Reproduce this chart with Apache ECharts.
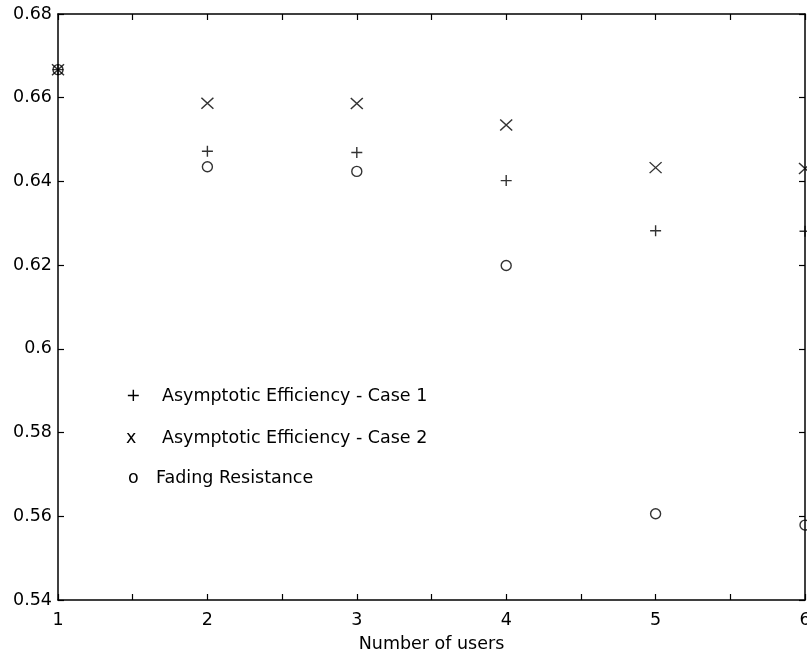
<!DOCTYPE html>
<html>
<head>
<meta charset="utf-8">
<script src="https://cdn.jsdelivr.net/npm/echarts@6/dist/echarts.min.js"></script>
<style>
html,body{margin:0;padding:0;background:#fff;}
#chart{width:807px;height:653px;}
</style>
</head>
<body>
<div id="chart"></div>
<script>
// Data
const users = [1, 2, 3, 4, 5, 6];
const case1 = [0.6667, 0.6472, 0.6469, 0.6402, 0.6282, 0.6281];
const case2 = [0.6667, 0.6587, 0.6586, 0.6535, 0.6433, 0.6431];
const fading = [0.6667, 0.6435, 0.6424, 0.6199, 0.5606, 0.5579];
const legendNames = ['Asymptotic Efficiency - Case 1', 'Asymptotic Efficiency - Case 2', 'Fading Resistance'];
const legendGlyphs = ['+', 'x', 'o'];
const xTitle = 'Number of users';

const FONT = 'DejaVu Sans';
const pair = (arr) => users.map((u, i) => [u, arr[i]]);

const baseX = {
  type: 'value', min: 1, max: 6, interval: 0.5,
  axisLine: {show: true, lineStyle: {color: '#000', width: 1.5}},
  axisTick: {show: true, inside: true, length: 6, lineStyle: {color: '#000', width: 1.2}},
  splitLine: {show: false}
};
const baseY = {
  type: 'value', min: 0.54, max: 0.68, interval: 0.02,
  axisLine: {show: true, lineStyle: {color: '#000', width: 1.5}},
  axisTick: {show: true, inside: true, length: 6, lineStyle: {color: '#000', width: 1.2}},
  splitLine: {show: false}
};

const markerStyle = {color: 'none', borderColor: '#000', borderWidth: 1.4};

const chart = echarts.init(document.getElementById('chart'), null, {renderer: 'canvas'});
chart.setOption({
  backgroundColor: '#fff',
  animation: false,
  grid: {left: 58, right: 2, top: 14, bottom: 53, containLabel: false, outerBoundsMode: 'none'},
  xAxis: [
    Object.assign({}, baseX, {
      position: 'bottom',
      name: xTitle, nameLocation: 'middle', nameGap: 35,
      nameTextStyle: {fontFamily: FONT, fontSize: 17.5, color: '#000'},
      axisLabel: {
        show: true, margin: 11, color: '#000', fontFamily: FONT, fontSize: 17.5,
        hideOverlap: false,
        formatter: v => (Math.abs(v - Math.round(v)) < 1e-6 ? String(Math.round(v)) : '')
      }
    }),
    Object.assign({}, baseX, {position: 'top', axisLabel: {show: false}})
  ],
  yAxis: [
    Object.assign({}, baseY, {
      position: 'left',
      axisLabel: {
        show: true, margin: 6, color: '#000', fontFamily: FONT, fontSize: 17.5,
        formatter: v => (+v.toFixed(2)).toString()
      }
    }),
    Object.assign({}, baseY, {position: 'right', axisLabel: {show: false}})
  ],
  series: [
    {
      name: legendNames[0], type: 'scatter', xAxisIndex: 0, yAxisIndex: 0,
      symbol: 'path://M5,0L5,10M0,5L10,5', symbolSize: 11,
      itemStyle: markerStyle, data: pair(case1), clip: false
    },
    {
      name: legendNames[1], type: 'scatter', xAxisIndex: 0, yAxisIndex: 0,
      symbol: 'path://M0,0L12,11M12,0L0,11', symbolSize: [12, 11],
      itemStyle: markerStyle, data: pair(case2), clip: false
    },
    {
      name: legendNames[2], type: 'scatter', xAxisIndex: 0, yAxisIndex: 0,
      symbol: 'circle', symbolSize: 10,
      itemStyle: markerStyle, data: pair(fading), clip: false
    }
  ],
  graphic: [0, 1, 2].map(i => ({
    type: 'group', left: [126, 126, 128][i], top: [387, 429, 469][i],
    children: [
      {type: 'text', x: 0, y: 0, style: {text: legendGlyphs[i], font: '17.5px "' + FONT + '"', fill: '#000'}},
      {type: 'text', x: i === 2 ? 28 : 36, y: 0, style: {text: legendNames[i], font: '17.5px "' + FONT + '"', fill: '#000'}}
    ]
  }))
});
</script>
</body>
</html>
